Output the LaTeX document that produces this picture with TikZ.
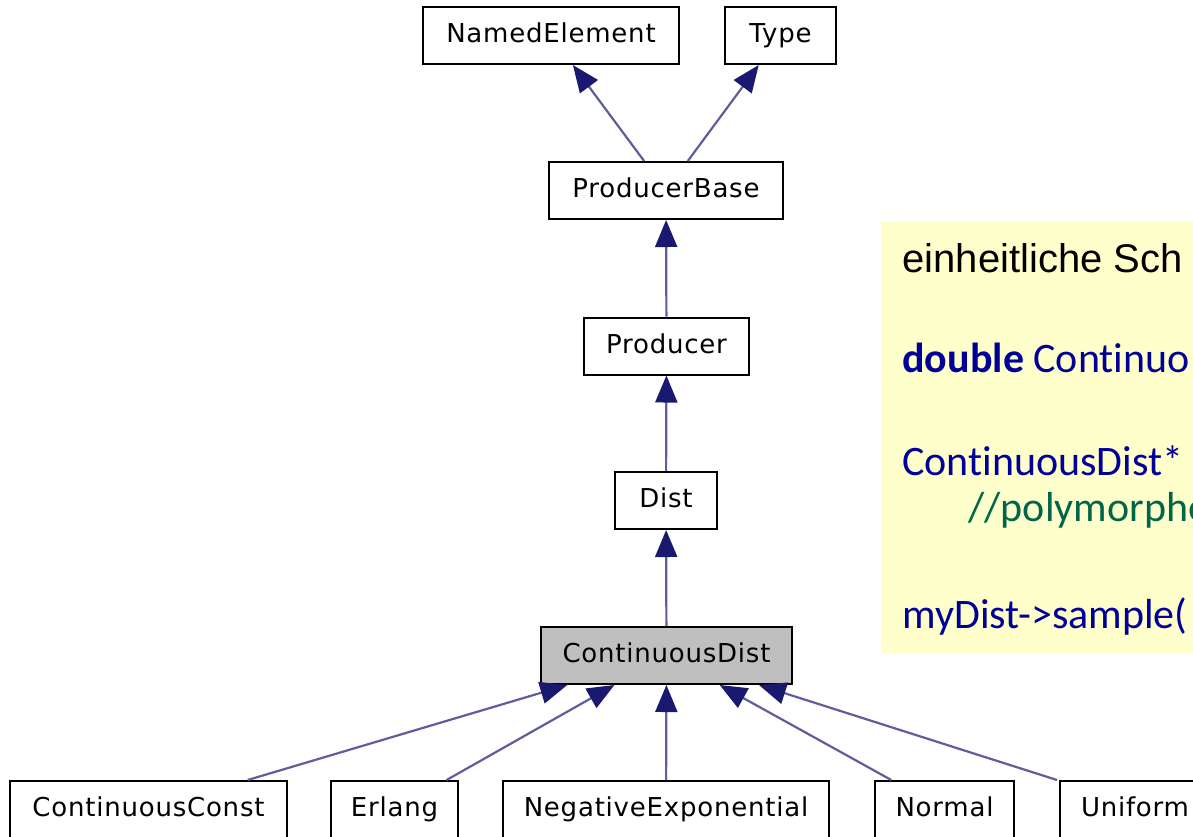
\documentclass[tikz,border=0pt]{standalone}
\usepackage{fontspec}
\usetikzlibrary{arrows.meta}
\newfontfamily\boxfont[LetterSpace=3]{DejaVu Sans}
\newfontfamily\notefont{Liberation Sans}
\newfontfamily\codefont[Ligatures=NoCommon]{Carlito}
\definecolor{edgeblue}{HTML}{191970}
\definecolor{notebg}{HTML}{FFFFCC}
\definecolor{codeblue}{HTML}{000099}
\definecolor{codegreen}{HTML}{00664A}
\definecolor{cdgray}{HTML}{BFBFBF}
\tikzset{
  cls/.style={draw=black, line width=1pt, inner sep=0pt, minimum height=28.5pt,
    text height=9.6pt, text depth=2.6pt,
    font=\boxfont\fontsize{13}{15}\selectfont},
  inherit/.style={draw=edgeblue!70, line width=1.1pt,
    -{Triangle[length=13.5pt,width=11pt,color=edgeblue]}},
  notetxt/.style={anchor=base west, inner sep=0pt, font=\notefont\fontsize{20}{24}\selectfont},
  codetxt/.style={anchor=base west, inner sep=0pt, text=codeblue, font=\codefont\fontsize{21}{24}\selectfont},
}
\begin{document}
\begin{tikzpicture}[x=0.5pt, y=-0.5pt]
\useasboundingbox (0,0) rectangle (1193,836);
\clip (0,0) rectangle (1193,836);
\fill[white] (0,0) rectangle (1193,836);

% class boxes
\node[cls, minimum width=128pt]   (ne)   at (551,35.5)    {NamedElement};
\node[cls, minimum width=55.5pt]  (type) at (780.5,35.5)  {Type};
\node[cls, minimum width=117pt]   (pb)   at (666,190.5)   {ProducerBase};
\node[cls, minimum width=82.5pt]  (prod) at (666.5,346)   {Producer};
\node[cls, minimum width=51pt]    (dist) at (666,500.5)   {Dist};
\node[cls, minimum width=125.5pt, fill=cdgray] (cd) at (666.5,655.5) {ContinuousDist};
\node[cls, minimum width=138.5pt] (cc)   at (148.5,809.5) {ContinuousConst};
\node[cls, minimum width=63.5pt]  (erl)  at (394.5,809.5) {Erlang};
\node[cls, minimum width=163pt]   (nexp) at (666,809.5)   {NegativeExponential};
\node[cls, minimum width=69.5pt]  (norm) at (944.5,809.5) {Normal};
\node[cls, minimum width=75pt]    (uni)  at (1135,809.5)  {Uniform};

% inheritance edges
\draw[inherit] (pb) -- (ne);
\draw[inherit] (pb) -- (type);
\draw[inherit] (prod) -- (pb);
\draw[inherit] (dist) -- (prod);
\draw[inherit] (cd) -- (dist);
\draw[inherit] (cc) -- (cd);
\draw[inherit] (erl) -- (cd);
\draw[inherit] (nexp) -- (cd);
\draw[inherit] (norm) -- (cd);
\coordinate (unitop) at ([xshift=-1pt]uni.north west);
\draw[inherit] (unitop) -- (cd);

% note
\fill[notebg] (881,221) rectangle (1210,653);
\node[notetxt] (n1) at (902,272) {einheitliche Sch};
\node[codetxt] (n2) at (902,372) {\bfseries double\mdseries{} Continuo};
\node[codetxt] (n3) at (902,475) {ContinuousDist*};
\node[codetxt, text=codegreen] (n4) at (968,521) {//polymorphe};
\node[codetxt] (n5) at (902,628) {myDist->sample(};
\end{tikzpicture}
\end{document}
